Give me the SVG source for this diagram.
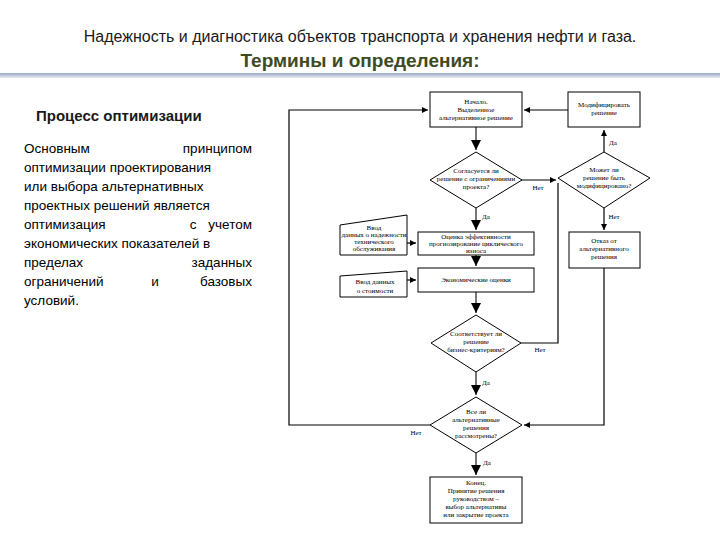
<svg xmlns="http://www.w3.org/2000/svg" width="720" height="540" viewBox="0 0 720 540">
<defs>
<marker id="a" viewBox="0 0 10 10" refX="10" refY="5" markerWidth="5" markerHeight="5" orient="auto"><path d="M0,0L10,5L0,10z" fill="#000"/></marker>
<linearGradient id="g" x1="0" y1="0" x2="0" y2="1"><stop offset="0" stop-color="#9aa8c0"/><stop offset="1" stop-color="#e8ecf2"/></linearGradient>
</defs>
<style>
.b{fill:#fff;stroke:#000;stroke-width:1}
.t{font-family:"Liberation Serif",serif;font-size:7px;text-anchor:middle;fill:#000}
.l{fill:none;stroke:#000;stroke-width:1.2}
.lg{fill:none;stroke:#777;stroke-width:2}
.s{font-family:"Liberation Sans",Arial,sans-serif;font-size:13.5px;fill:#000}
</style>
<rect width="720" height="540" fill="#fff"/>
<text x="360" y="42" font-family="Liberation Sans,Arial,sans-serif" font-size="16" text-anchor="middle" fill="#1a1a1a">Надежность и диагностика объектов транспорта и хранения нефти и газа.</text>
<text x="360" y="67" font-family="Liberation Sans,Arial,sans-serif" font-size="19" font-weight="bold" text-anchor="middle" fill="#3e4a22">Термины и определения:</text>
<rect x="0" y="73" width="720" height="5" fill="url(#g)"/>
<text x="36" y="121" font-family="Liberation Sans,Arial,sans-serif" font-size="15" font-weight="bold" fill="#1a1a1a">Процесс оптимизации</text>
<g class="s">
<text x="24" y="153">Основным</text><text x="252" y="153" text-anchor="end">принципом</text>
<text x="24" y="172">оптимизации проектирования</text>
<text x="24" y="191">или выбора альтернативных</text>
<text x="24" y="210">проектных решений является</text>
<text x="24" y="229">оптимизация</text><text x="193" y="229" text-anchor="middle">с</text><text x="252" y="229" text-anchor="end">учетом</text>
<text x="24" y="248">экономических показателей в</text>
<text x="24" y="267">пределах</text><text x="252" y="267" text-anchor="end">заданных</text>
<text x="24" y="286">ограничений</text><text x="155" y="286" text-anchor="middle">и</text><text x="252" y="286" text-anchor="end">базовых</text>
<text x="24" y="305">условий.</text>
</g>
<g id="connectors">
<path class="lg" d="M476,127V150" marker-end="url(#a)"/>
<path class="lg" d="M476,208V230" marker-end="url(#a)"/>
<path class="lg" d="M476,255V266" marker-end="url(#a)"/>
<path class="lg" d="M476,292V313" marker-end="url(#a)"/>
<path class="lg" d="M476,372V395" marker-end="url(#a)"/>
<path class="lg" d="M476,453V475" marker-end="url(#a)"/>
<path class="l" d="M521,180H556" marker-end="url(#a)"/>
<path class="l" d="M521,343H558V183"/>
<path class="l" d="M568,110H524" marker-end="url(#a)"/>
<path class="l" d="M604,152V130" marker-end="url(#a)"/>
<path class="l" d="M604,208V230" marker-end="url(#a)"/>
<path class="l" d="M604,268V425H524" marker-end="url(#a)"/>
<path class="l" d="M430,425H289V110H428" marker-end="url(#a)"/>
<path class="l" d="M407,243H416" marker-end="url(#a)"/>
<path class="l" d="M407,280H416" marker-end="url(#a)"/>
<text class="t" x="538" y="190">Нет</text>
<text class="t" x="613" y="145">Да</text>
<text class="t" x="614" y="219">Нет</text>
<text class="t" x="486" y="219">Да</text>
<text class="t" x="540" y="352">Нет</text>
<text class="t" x="486" y="385">Да</text>
<text class="t" x="416" y="435">Нет</text>
<text class="t" x="487" y="465">Да</text>
</g>
<g id="start"><rect class="b" x="430" y="92" width="92" height="35"/>
<text class="t" x="476" y="104">Начало.</text><text class="t" x="476" y="112">Выделенное</text><text class="t" x="476" y="120">альтернативное решение</text></g>
<g id="modify"><rect class="b" x="568" y="92" width="72" height="35"/>
<text class="t" x="604" y="107">Модифицировать</text><text class="t" x="604" y="115">решение</text></g>
<g id="d1"><path class="b" d="M476,152L522,180L476,208L430,180z"/>
<text class="t" x="476" y="173">Согласуется ли</text><text class="t" x="476" y="181" font-size="6.3">решение с ограничениями</text><text class="t" x="476" y="189">проекта?</text></g>
<g id="d2"><path class="b" d="M604,152L650,178L604,208L558,178z"/>
<text class="t" x="604" y="172">Может ли</text><text class="t" x="604" y="180">решение быть</text><text class="t" x="604" y="188">модифицировано?</text></g>
<g id="eval"><rect class="b" x="418" y="232" width="116" height="23"/>
<text class="t" x="476" y="239">Оценка эффективности</text><text class="t" x="476" y="246">прогнозирование циклического</text><text class="t" x="476" y="253">износа</text></g>
<g id="in1"><path class="b" d="M340,225L407,215V255H340z"/>
<text class="t" x="374" y="230" font-size="5.5">Ввод</text><text class="t" x="374" y="237" font-size="5.5">данных о надежности</text><text class="t" x="374" y="244" font-size="5.5">технического</text><text class="t" x="374" y="251" font-size="5.5">обслуживания</text></g>
<g id="econ"><rect class="b" x="418" y="268" width="116" height="24"/>
<text class="t" x="476" y="282">Экономические оценки</text></g>
<g id="in2"><path class="b" d="M340,276L407,271V297H340z"/>
<text class="t" x="375" y="284">Ввод данных</text><text class="t" x="375" y="293">о стоимости</text></g>
<g id="refuse"><rect class="b" x="569" y="232" width="71" height="36"/>
<text class="t" x="604" y="243">Отказ от</text><text class="t" x="604" y="251">альтернативного</text><text class="t" x="604" y="259">решения</text></g>
<g id="d3"><path class="b" d="M476,315L521,343L476,372L431,343z"/>
<text class="t" x="476" y="336">Соответствует ли</text><text class="t" x="476" y="344">решение</text><text class="t" x="476" y="352">бизнес-критериям?</text></g>
<g id="d4"><path class="b" d="M476,397L522,425L476,453L430,425z"/>
<text class="t" x="476" y="414">Все ли</text><text class="t" x="476" y="422">альтернативные</text><text class="t" x="476" y="430">решения</text><text class="t" x="476" y="438">рассмотрены?</text></g>
<g id="end"><rect class="b" x="430" y="477" width="92" height="46"/>
<text class="t" x="476" y="485">Конец.</text><text class="t" x="476" y="493">Принятие решения</text><text class="t" x="476" y="501">руководством –</text><text class="t" x="476" y="509">выбор альтернативы</text><text class="t" x="476" y="517">или закрытие проекта</text></g>
</svg>
